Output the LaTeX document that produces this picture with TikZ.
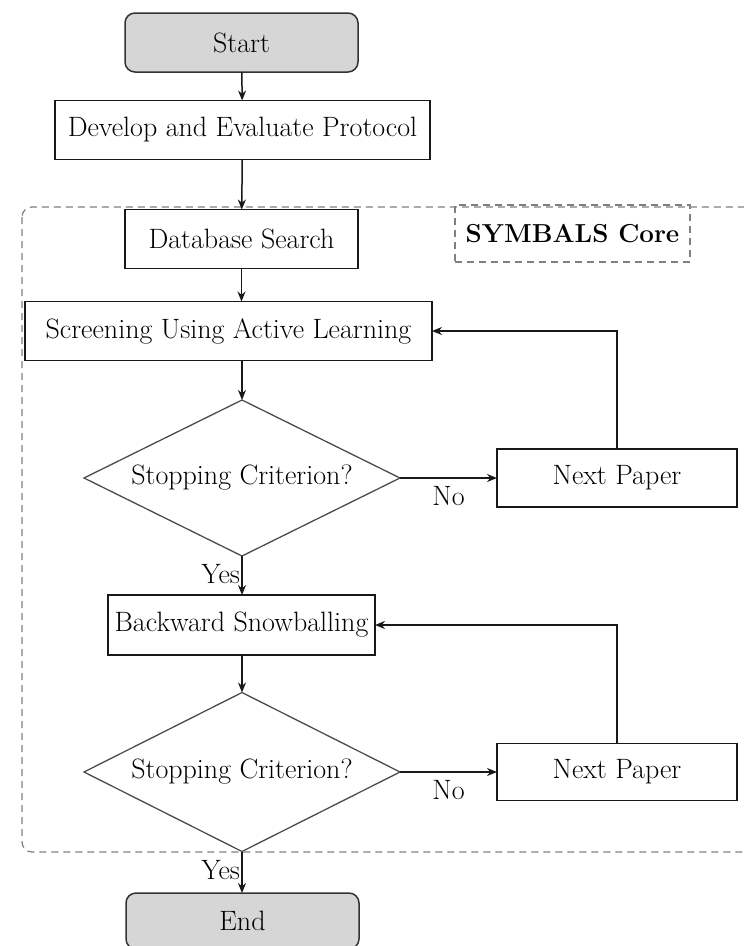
\documentclass[tikz,border=0pt]{standalone}
\usepackage{fontspec}
\setmainfont{Latin Modern Roman}
\usetikzlibrary{shapes.geometric,arrows.meta}
\begin{document}
\begin{tikzpicture}[x=1pt,y=-1pt,
  font=\fontsize{28}{33}\selectfont,
  every node/.style={inner sep=0pt, outer sep=0pt},
  terminal/.style={draw=black!80, line width=1.5pt, fill=black!16, rounded corners=10pt, minimum height=59pt, minimum width=233pt},
  process/.style={draw=black!90, line width=1.5pt, minimum height=59pt},
  decision/.style={draw=black!70, line width=1.3pt, shape=diamond, minimum width=316pt, minimum height=156pt},
  flow/.style={draw=black!90, line width=1.5pt, -{Stealth[length=10pt,width=8pt]}},
  core/.style={draw=black!50, line width=1.2pt, dash pattern=on 7pt off 5pt},
  label/.style={inner sep=2pt}
]
\useasboundingbox (0,0) rectangle (744,946);
\clip (0,0) rectangle (744,946);

% SYMBALS core frame
\draw[core, rounded corners=10pt] (22,207) rectangle (770,852);
\node[core, minimum width=235pt, minimum height=57pt, font=\fontsize{26}{31}\selectfont\bfseries] (corelabel) at (572.5,233.5) {SYMBALS Core};

% steps
\node[terminal] (start) at (241.5,42.5) {Start};
\node[process, minimum width=375pt] (protocol) at (242.5,130) {Develop and Evaluate Protocol};
\node[process, minimum width=233pt] (search) at (241.5,239) {Database Search};
\node[process, minimum width=407pt] (screen) at (228.5,331) {Screening Using Active Learning};
\node[decision] (stop1) at (242,478) {\makebox[0pt]{Stopping Criterion?}};
\node[process, minimum width=240pt, minimum height=58pt] (next1) at (617,478) {Next Paper};
\node[process, minimum width=267pt, minimum height=60pt] (snow) at (241.5,625) {Backward Snowballing};
\node[decision, minimum height=159pt] (stop2) at (242,772) {\makebox[0pt]{Stopping Criterion?}};
\node[process, minimum width=240pt, minimum height=57pt] (next2) at (617,772) {Next Paper};
\node[terminal, minimum height=56pt] (finish) at (242.5,921) {End};

% connectors
\draw[flow] (start) -- (protocol);
\draw[flow] (protocol) -- (search);
\draw[flow] (search.south) -- (screen.north -| search.south);
\draw[flow] (screen.south -| stop1.north) -- (stop1.north);
\draw[flow] (stop1.east) -- node[label, below, yshift=-6pt] {No} (next1.west);
\draw[flow] (next1.north) |- (screen.east);
\draw[flow] (stop1.south) -- node[label, left, pos=0.45] {Yes} (snow.north -| stop1.south);
\draw[flow] (snow.south -| stop2.north) -- (stop2.north);
\draw[flow] (stop2.east) -- node[label, below, yshift=-6pt] {No} (next2.west);
\draw[flow] (next2.north) |- (snow.east);
\draw[flow] (stop2.south) -- node[label, left, pos=0.45] {Yes} (finish.north -| stop2.south);
\end{tikzpicture}
\end{document}
